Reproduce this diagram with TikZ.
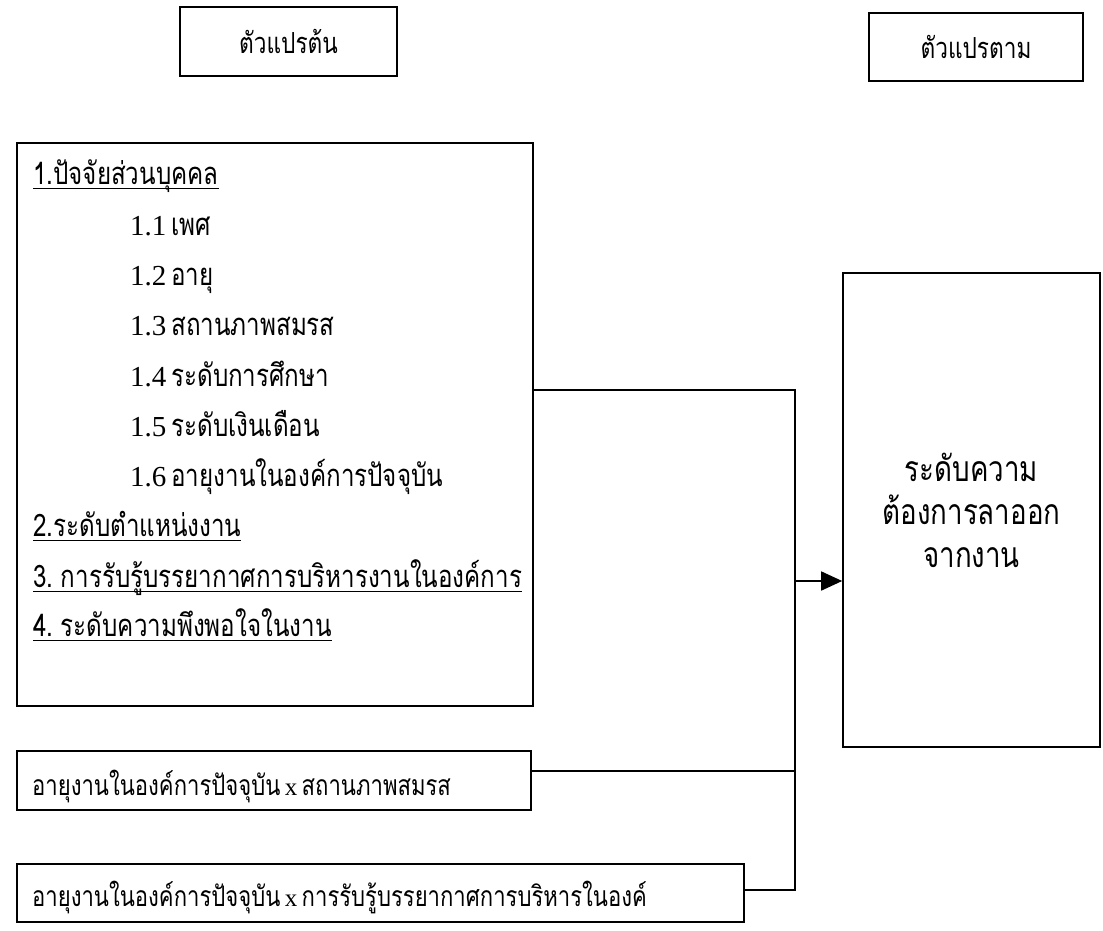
\documentclass[tikz,border=0pt]{standalone}
\usepackage{fontspec}
\newfontfamily\thai[Script=Thai,FakeStretch=0.78,WordSpace=0.6]{Loma}
\newfontfamily\tnr{Liberation Serif}
\usetikzlibrary{arrows.meta}
\tikzset{
  box/.style={draw, line width=1.6pt, inner sep=0pt},
  txt/.style={inner sep=0pt, anchor=base west, font=\thai\fontsize{31}{34}\selectfont},
  small/.style={font=\thai\fontsize{28.3}{32}\selectfont},
  conn/.style={line width=1.6pt}
}
\newcommand{\ul}[1]{\setbox0\hbox{#1}\rlap{\rule[-5pt]{\wd0}{1.4pt}}\box0}
\newcommand{\nm}[1]{{\tnr\fontsize{29}{30}\selectfont #1}}
\begin{document}
\begin{tikzpicture}[x=1pt,y=-1pt]
\useasboundingbox (0,0) rectangle (1103,930);
% header boxes
\node[box, minimum width=217pt, minimum height=69pt, font=\thai\fontsize{29}{34}\selectfont] (h1) at (288.5,41.5) {ตัวแปรต้น};
\node[box, minimum width=214pt, minimum height=68pt, font=\thai\fontsize{29}{34}\selectfont] (h2) at (976,47) {ตัวแปรตาม};
% big left box
\node[box, minimum width=516pt, minimum height=563pt] (iv) at (275,424.5) {};
\node[txt] (l1) at (33,184) {\ul{1.ปัจจัยส่วนบุคคล}};
\node[txt] (l11) at (130,235) {\nm{1.1} เพศ};
\node[txt] (l12) at (130,285) {\nm{1.2} อายุ};
\node[txt] (l13) at (130,335) {\nm{1.3} สถานภาพสมรส};
\node[txt] (l14) at (130,386) {\nm{1.4} ระดับการศึกษา};
\node[txt] (l15) at (130,436) {\nm{1.5} ระดับเงินเดือน};
\node[txt] (l16) at (130,486) {\nm{1.6} อายุงานในองค์การปัจจุบัน};
\node[txt] (l2) at (33,536) {\ul{2.ระดับตำแหน่งงาน}};
\node[txt] (l3) at (33,587) {\ul{3. การรับรู้บรรยากาศการบริหารงานในองค์การ}};
\node[txt] (l4) at (33,636) {\ul{4. ระดับความพึงพอใจในงาน}};
% interaction boxes
\node[box, minimum width=514pt, minimum height=59pt] (b2) at (274,780.5) {};
\node[txt, small] (t2) at (32,795) {อายุงานในองค์การปัจจุบัน {\tnr\fontsize{25}{30}\selectfont x} สถานภาพสมรส};
\node[box, minimum width=727pt, minimum height=58pt] (b3) at (380.5,893) {};
\node[txt, small] (t3) at (32,906) {อายุงานในองค์การปัจจุบัน {\tnr\fontsize{25}{30}\selectfont x} การรับรู้บรรยากาศการบริหารในองค์};
% dependent box
\node[box, minimum width=257pt, minimum height=474pt, align=center,
      font=\thai\fontsize{35.5}{43}\selectfont] (dv) at (971.5,510) {ระดับความ\\ต้องการลาออก\\จากงาน};
% connectors
\coordinate (j1) at (795,390);
\coordinate (j2) at (795,771);
\coordinate (j3) at (795,890);
\coordinate (ja) at (795,581);
\draw[conn] (iv.east |- j1) -- (j1) -- (j3) -- (b3.east |- j3);
\draw[conn] (b2.east |- j2) -- (j2);
\draw[conn, -{Triangle[length=21pt,width=19pt]}] (ja) -- (dv.west |- ja);
\end{tikzpicture}
\end{document}
